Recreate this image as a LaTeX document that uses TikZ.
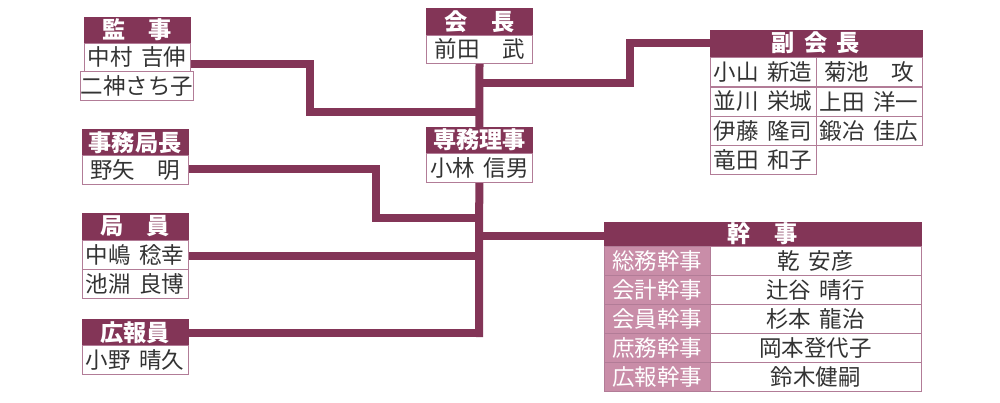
\documentclass[tikz,border=0pt]{standalone}
\usepackage{fontspec}
\setmainfont{Noto Sans CJK JP}
\usetikzlibrary{backgrounds}
\definecolor{maroon}{HTML}{833557}
\definecolor{rosa}{HTML}{C98DA8}
\definecolor{edge}{HTML}{B27C97}
\definecolor{ink}{HTML}{333333}
\newcommand\hsp{\hspace{.4em}}
\newcommand\wsp{\hspace{1em}}
\tikzset{
  ttl/.style={fill=maroon, draw=maroon, text=white, font=\fontsize{16.5}{16.5}\selectfont\bfseries,
    minimum width=2.65cm, minimum height=0.65cm, inner sep=0pt},
  cell/.style={fill=white, draw=edge, text=ink, font=\fontsize{16}{16}\selectfont,
    minimum width=2.65cm, minimum height=0.725cm, inner sep=0pt},
  role/.style={cell, fill=rosa, text=white},
  link/.style={draw=maroon, line width=0.2cm},
}
\begin{document}
\begin{tikzpicture}[x=0.025cm, y=-0.025cm]
\useasboundingbox (0,0) rectangle (1000,402);

% kanji
\node [ttl]  (kjt) at (137,30)   {監\wsp 事};
\node [cell] (kj1) at (137,57.5) {中村\hsp 吉伸};
\node [cell] (kj2) at (137,86)   {二神さち子};

% kaicho
\node [ttl, minimum height=0.675cm] (kct) at (479.5,21.5) {会\wsp 長};
\node [cell, minimum height=0.7cm]  (kc1) at (479.5,49)   {前田\wsp 武};

% fukukaicho
\node [ttl, minimum width=5.3cm] (fkt) at (816,43) {副\hsp 会\hsp 長};
\node [cell] (fk1) at (763,71.5)  {小山\hsp 新造};
\node [cell] (fk2) at (869,71.5)  {菊池\wsp 攻};
\node [cell] (fk3) at (763,101.5) {並川\hsp 栄城};
\node [cell] (fk4) at (869,101.5) {上田\hsp 洋一};
\node [cell] (fk5) at (763,130.5) {伊藤\hsp 隆司};
\node [cell] (fk6) at (869,130.5) {鍛冶\hsp 佳広};
\node [cell] (fk7) at (763,159.5) {竜田\hsp 和子};

% jimukyokucho
\node [ttl]  (jkt) at (135,142.5) {事務局長};
\node [cell] (jk1) at (135,169.5) {野矢\wsp 明};

% senmuriji
\node [ttl]  (smt) at (479.5,140)   {専務理事};
\node [cell] (sm1) at (479.5,167.5) {小林\hsp 信男};

% kyokuin
\node [ttl, minimum height=0.675cm] (kit) at (135,226.5) {局\wsp 員};
\node [cell] (ki1) at (135,254.5) {中嶋\hsp 稔幸};
\node [cell] (ki2) at (135,283.5) {池淵\hsp 良博};

% kohoin
\node [ttl]  (kht) at (135,332.5) {広報員};
\node [cell] (kh1) at (135,359.5) {小野\hsp 晴久};

% kanji (secretaries)
\node [ttl, minimum width=7.925cm, minimum height=0.6cm] (knt) at (762.5,234) {幹\wsp 事};
\foreach \r/\y/\role/\name in {1/260.5/総務幹事/乾\hsp 安彦, 2/289.5/会計幹事/辻谷\hsp 晴行,
    3/318.5/会員幹事/杉本\hsp 龍治, 4/347.5/庶務幹事/岡本登代子, 5/376.5/広報幹事/鈴木健嗣}{
  \node [role] (knr\r) at (657,\y) {\role};
  \node [cell, minimum width=5.275cm] (knn\r) at (815.5,\y) {\name};
}

\begin{scope}[on background layer]
\draw [link] (kc1.south) -- (479,337);
\draw [link] (kj1.east |- 0,64) -- (310,64) -- (310,112) -- (479,112);
\draw [link] (479,83) -- (630,83) -- (630,43) -- (fkt.west |- 0,43);
\draw [link] (jk1.east |- 0,169) -- (376,169) -- (376,218) -- (479,218);
\draw [link] (ki1.east |- 0,256) -- (479,256);
\draw [link] (kht.east |- 0,333) -- (479,333);
\draw [link] (479,236) -- (knt.west |- 0,236);
\end{scope}
\end{tikzpicture}
\end{document}
